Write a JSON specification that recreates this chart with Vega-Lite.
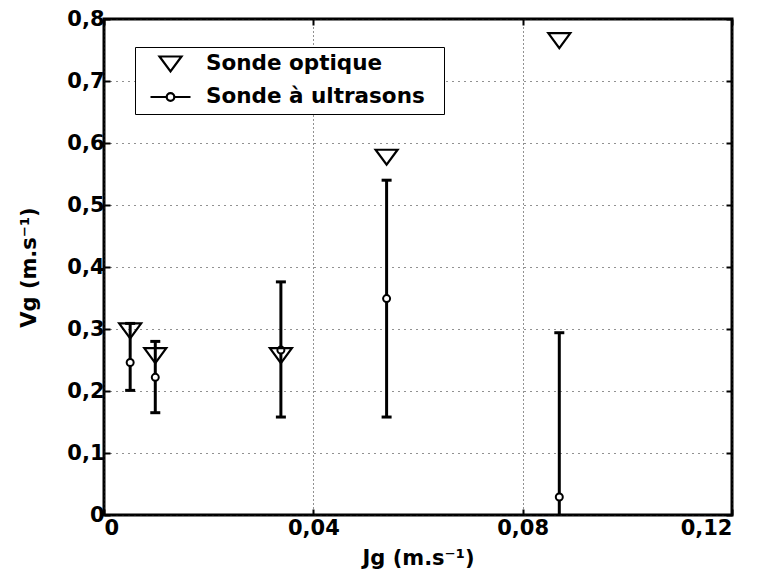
{
  "$schema": "https://vega.github.io/schema/vega-lite/v6.json",
  "width": 628,
  "height": 496,
  "autosize": {"type": "none"},
  "padding": {"left": 104, "top": 19, "right": 26, "bottom": 64},
  "background": "white",
  "config": {
    "font": "DejaVu Sans",
    "view": {"stroke": "black", "strokeWidth": 3},
    "axis": {
      "labelFont": "DejaVu Sans", "labelFontWeight": "bold", "labelFontSize": 21, "labelColor": "black",
      "titleFont": "DejaVu Sans", "titleFontWeight": "bold", "titleFontSize": 21, "titleColor": "black",
      "domain": false, "tickColor": "black", "tickWidth": 2, "tickSize": -6,
      "gridColor": "#222222", "gridWidth": 1
    }
  },
  "datasets": {
    "optique": [
      {"J": 0.005, "V": 0.297, "serie": "Sonde optique"},
      {"J": 0.0098, "V": 0.257, "serie": "Sonde optique"},
      {"J": 0.0338, "V": 0.257, "serie": "Sonde optique"},
      {"J": 0.054, "V": 0.577, "serie": "Sonde optique"},
      {"J": 0.087, "V": 0.765, "serie": "Sonde optique"}
    ],
    "ultra": [
      {"J": 0.005, "V": 0.246, "lo": 0.201, "hi": 0.309},
      {"J": 0.0098, "V": 0.222, "lo": 0.165, "hi": 0.28},
      {"J": 0.0338, "V": 0.266, "lo": 0.158, "hi": 0.376},
      {"J": 0.054, "V": 0.349, "lo": 0.158, "hi": 0.54},
      {"J": 0.087, "V": 0.029, "lo": -0.236, "hi": 0.294}
    ]
  },
  "layer": [
    {
      "data": {"name": "ultra"},
      "mark": {"type": "rule", "strokeWidth": 3, "color": "black", "clip": true},
      "encoding": {
        "x": {"field": "J", "type": "quantitative", "scale": {"domain": [0, 0.12]},
              "axis": {"orient": "top", "values": [0, 0.04, 0.08, 0.12], "labels": false, "grid": false, "title": null}},
        "y": {"field": "lo", "type": "quantitative", "scale": {"domain": [0, 0.8]},
              "axis": {"orient": "right", "values": [0, 0.1, 0.2, 0.3, 0.4, 0.5, 0.6, 0.7, 0.8], "labels": false, "grid": false, "title": null}},
        "y2": {"field": "hi"}
      }
    },
    {
      "data": {"name": "ultra"},
      "mark": {"type": "tick", "orient": "horizontal", "size": 10, "thickness": 3, "color": "black", "clip": true, "opacity": 1},
      "encoding": {
        "x": {"field": "J", "type": "quantitative", "axis": null},
        "y": {"field": "lo", "type": "quantitative", "axis": null}
      }
    },
    {
      "data": {"name": "ultra"},
      "mark": {"type": "tick", "orient": "horizontal", "size": 10, "thickness": 3, "color": "black", "clip": true, "opacity": 1},
      "encoding": {
        "x": {"field": "J", "type": "quantitative", "axis": null},
        "y": {"field": "hi", "type": "quantitative", "axis": null}
      }
    },
    {
      "data": {"name": "ultra"},
      "mark": {"type": "point", "shape": "circle", "filled": true, "fill": "white", "stroke": "black", "strokeWidth": 2, "size": 49, "opacity": 1},
      "encoding": {
        "x": {"field": "J", "type": "quantitative", "axis": null},
        "y": {"field": "V", "type": "quantitative", "axis": null}
      }
    },
    {
      "data": {"name": "optique"},
      "mark": {"type": "point", "filled": false, "color": "black", "stroke": "black", "strokeWidth": 2.2, "size": 1600, "opacity": 1},
      "encoding": {
        "x": {"field": "J", "type": "quantitative",
              "axis": {"orient": "bottom", "values": [0, 0.04, 0.08, 0.12], "grid": true, "gridDash": [1, 3], "labelPadding": 8,
                       "labelExpr": "datum.value == 0 ? '0' : replace(format(datum.value, '.2f'), '.', ',')",
                       "title": "Jg (m.s⁻¹)", "titlePadding": 9}},
        "y": {"field": "V", "type": "quantitative",
              "axis": {"orient": "left", "values": [0, 0.1, 0.2, 0.3, 0.4, 0.5, 0.6, 0.7, 0.8], "grid": true, "gridDash": [1, 5], "labelPadding": 6,
                       "labelExpr": "datum.value == 0 ? '0' : replace(format(datum.value, '.1f'), '.', ',')",
                       "title": "Vg (m.s⁻¹)", "titlePadding": 27}},
        "shape": {
          "field": "serie", "type": "nominal",
          "scale": {"domain": ["Sonde optique", "Sonde à ultrasons"],
                    "range": ["M-0.55,-0.375L0.55,-0.375L0,0.375Z",
                              "M-1,0H-0.19M0.19,0H1M-0.19,0A0.19,0.19 0 1,0 0.19,0A0.19,0.19 0 1,0 -0.19,0Z"]},
          "legend": {
            "orient": "none", "legendX": 31, "legendY": 28, "title": null,
            "labelFont": "DejaVu Sans", "labelFontSize": 21.5, "labelFontWeight": "bold", "labelColor": "black", "labelLimit": 0,
            "labelExpr": "datum.label + '\u2800'",
            "strokeColor": "black", "fillColor": "white", "padding": 2, "rowPadding": 3, "clipHeight": 30,
            "symbolSize": 1600, "symbolOffset": 12, "labelOffset": 14,
            "symbolStrokeColor": "black", "symbolFillColor": "white", "symbolStrokeWidth": 2.2,
            "encode": {
              "legend": {"update": {"strokeWidth": {"value": 1.5}}},
              "symbols": {"update": {"fill": {"value": "white"}, "stroke": {"value": "black"}, "opacity": {"value": 1}}}
            }
          }
        }
      }
    }
  ],
  "resolve": {"axis": {"x": "independent", "y": "independent"}}
}
